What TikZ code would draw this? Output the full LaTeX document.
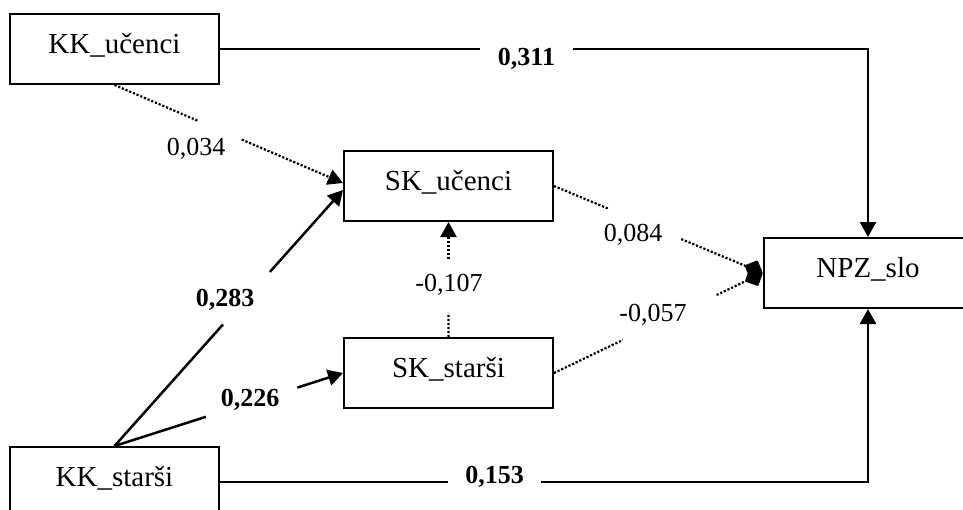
\documentclass[tikz,border=0pt]{standalone}
\usepackage{fontspec}
\setmainfont{Liberation Serif}
\usetikzlibrary{calc}
\usetikzlibrary{positioning}
\usetikzlibrary{arrows.meta}

\tikzset{
  var/.style={draw, line width=2pt, minimum width=209pt, minimum height=70pt,
    inner sep=0pt, font=\fontsize{29}{33}\selectfont, text height=20pt, text depth=11pt},
  coef/.style={inner ysep=0pt, inner xsep=17.5pt, font=\fontsize{26}{30}\selectfont,
    text height=17.7pt, text depth=0pt},
  sigcoef/.style={coef, font=\fontsize{26}{30}\selectfont\bfseries},
  eff/.style={line width=2.5pt},
  effarrow/.style={eff, -{Triangle[length=15pt,width=16pt]}},
  weak/.style={line width=2.2pt, dash pattern=on 2.2pt off 1.8pt},
  weakarrow/.style={weak, -{Triangle[length=15pt,width=16pt]}},
  weakdiamond/.style={weak, -{Diamond[length=20pt,width=20pt,round=false]}}
}

\begin{document}
\begin{tikzpicture}[x=1pt,y=-1pt]
  \useasboundingbox (0,0) rectangle (963,509);
  \clip (0,0) rectangle (963,509);

  \node [var] (KKu) at (114.5,49) {KK\_učenci};
  \node [var] (KKs) at (114.5,482) {KK\_starši};
  \node [var] (SKu) at (448.5,186) {SK\_učenci};
  \node [var] (SKs) at (448.5,373) {SK\_starši};
  \node [var] (NPZ) at (868,273) {NPZ\_slo};

  \node [sigcoef] (c311) at (526.5,57) {0,311};
  \node [sigcoef] (c153) at (494.5,475) {0,153};
  \node [sigcoef] (c283) at (225,298) {0,283};
  \node [sigcoef] (c226) at (250,398) {0,226};
  \node [coef] (c034) at (196,147) {0,034};
  \node [coef] (c084) at (633,233) {0,084};
  \node [coef] (c057) at (653,313) {-0,057};
  \node [coef] (c107) at (449,283) {-0,107};

  \coordinate (SKuin1) at ($(SKu.west)+(0,-3)$);
  \coordinate (SKuin2) at ($(SKu.west)+(0,4)$);

  % direct effects
  \draw [eff] (KKu.east) -- (KKu.east -| c311.west);
  \draw [effarrow] (KKu.east -| c311.east) -| (NPZ.north);
  \draw [eff] (KKs.east) -- (KKs.east -| c153.west);
  \draw [effarrow] (KKs.east -| c153.east) -| (NPZ.south);

  \draw [eff] (KKs.north) -- ($(KKs.north)!0.475!(SKuin2)$);
  \draw [effarrow] ($(KKs.north)!0.68!(SKuin2)$) -- (SKuin2);
  \draw [eff] (KKs.north) -- ($(KKs.north)!0.40!(SKs.west)$);
  \draw [effarrow] ($(KKs.north)!0.80!(SKs.west)$) -- (SKs.west);

  % not significant
  \draw [weak] (KKu.south) -- ($(KKu.south)!0.365!(SKuin1)$);
  \draw [weakarrow] ($(KKu.south)!0.557!(SKuin1)$) -- (SKuin1);
  \draw [weak] (SKs.north) -- ($(SKs.north)!0.21!(SKu.south)$);
  \draw [weakarrow] ($(SKs.north)!0.68!(SKu.south)$) -- (SKu.south);
  \draw [weak] (SKu.east) -- ($(SKu.east)!0.26!(NPZ.west)$);
  \draw [weakdiamond] ($(SKu.east)!0.61!(NPZ.west)$) -- (NPZ.west);
  \draw [weak] (SKs.east) -- ($(SKs.east)!0.33!(NPZ.west)$);
  \draw [weakdiamond] ($(SKs.east)!0.78!(NPZ.west)$) -- (NPZ.west);
\end{tikzpicture}
\end{document}
